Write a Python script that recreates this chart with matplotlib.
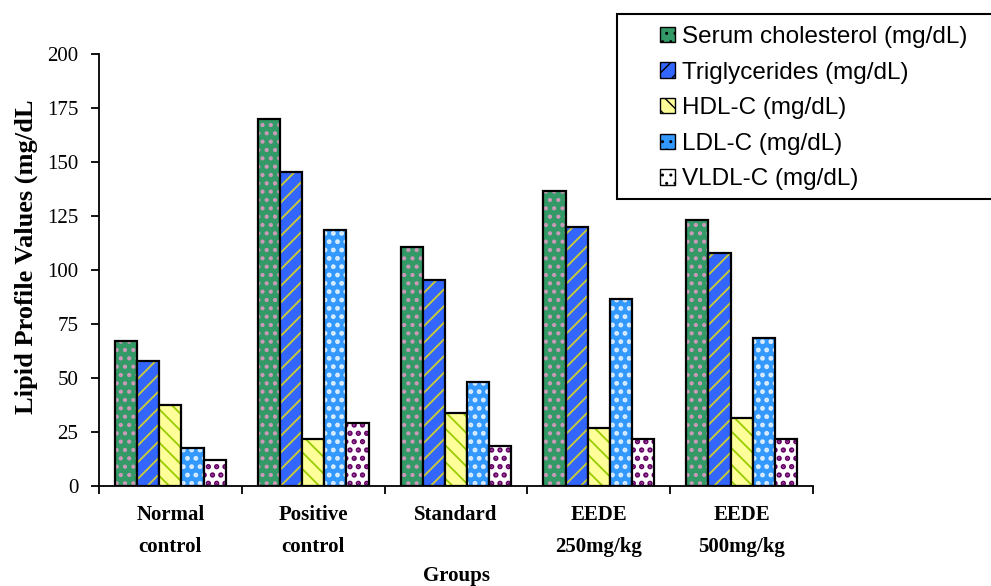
import numpy as np
import matplotlib
matplotlib.use('Agg')
import matplotlib.pyplot as plt

groups = ['Normal\ncontrol', 'Positive\ncontrol', 'Standard', 'EEDE\n250mg/kg', 'EEDE\n500mg/kg']
series = ['Serum cholesterol (mg/dL)', 'Triglycerides (mg/dL)', 'HDL-C (mg/dL)',
          'LDL-C (mg/dL)', 'VLDL-C (mg/dL)']
serum_chol = [67, 170, 110.5, 136.5, 123]
triglycerides = [58, 145.5, 95.5, 120, 108]
hdl_c = [37.5, 22, 34, 27, 31.5]
ldl_c = [17.5, 118.5, 48, 86.5, 68.5]
vldl_c = [12, 29, 18.5, 22, 22]
values = [serum_chol, triglycerides, hdl_c, ldl_c, vldl_c]

# face colour, hatch colour, hatch pattern, hatch width
styles = [('#339966', '#cc99bb', '..', 1.8),
          ('#3366ff', '#cccc33', '//', 1.3),
          ('#ffff99', '#99cc00', '\\\\', 1.3),
          ('#3399ff', '#ddeeff', '..', 2.2),
          ('#ffffff', '#660066', '..', 2.6)]

fig = plt.figure(figsize=(9.91, 5.86), dpi=100)
ax = fig.add_axes([0.0999, 0.1706, 0.7205, 0.7372])

x = np.arange(len(groups))
w = 0.155
handles = []
for i, (vals, (fc, hc, hp, hw)) in enumerate(zip(values, styles)):
    pos = x + (i - 2) * w
    with plt.rc_context({'hatch.linewidth': hw}):
        ax.bar(pos, vals, w, color=fc, edgecolor=hc, hatch=hp, linewidth=0)
        h = plt.Rectangle((0, 0), 1, 1, facecolor=fc, edgecolor=hc, hatch=hp, linewidth=0)
    ax.bar(pos, vals, w, facecolor='none', edgecolor='black', linewidth=1.6)
    handles.append(h)

ax.set_xlim(-0.5, len(groups) - 0.5)
ax.set_ylim(0, 200)
ax.set_yticks(range(0, 201, 25))
ax.spines['top'].set_visible(False)
ax.spines['right'].set_visible(False)
ax.spines['left'].set_linewidth(1.3)
ax.spines['bottom'].set_linewidth(1.3)

ax.set_xticks(x)
ax.set_xticklabels(groups, fontfamily='Liberation Serif', fontweight='bold',
                   fontsize=15, linespacing=1.75, va='top')
ax.tick_params(axis='x', which='major', length=0, pad=14)
ax.set_xticks(np.arange(-0.5, len(groups), 1), minor=True)
ax.tick_params(axis='x', which='minor', length=6, width=1.3, direction='out')
ax.tick_params(axis='y', length=6, width=1.3, direction='out', pad=9)
for t in ax.get_yticklabels():
    t.set_fontfamily('Liberation Serif')
    t.set_fontsize(15)

ax.set_xlabel('Groups', fontfamily='Liberation Serif', fontweight='bold', fontsize=15, labelpad=7)
ax.set_ylabel('Lipid Profile Values (mg/dL', fontfamily='Liberation Serif',
              fontweight='bold', fontsize=19)
ax.yaxis.set_label_coords(-0.086, 0.53)

# legend box drawn by hand (runs off the right edge in the reference)
fig.patches.append(plt.Rectangle((617 / 991, 1 - 199 / 586), 380 / 991, 185 / 586,
                                 transform=fig.transFigure, facecolor='white',
                                 edgecolor='black', linewidth=1.5, zorder=3))
leg = fig.legend(handles, series, loc='upper left', bbox_to_anchor=(660 / 991, 1 - 26 / 586),
                 prop={'family': 'Liberation Sans', 'size': 17.5}, frameon=False,
                 handlelength=0.6, handleheight=0.6, handletextpad=0.3, borderpad=0,
                 labelspacing=0.56, borderaxespad=0)
leg.set_zorder(4)
for h in leg.legend_handles:
    h.set_edgecolor('black')
    h.set_linewidth(1)

fig.savefig('out.png', dpi=100)
